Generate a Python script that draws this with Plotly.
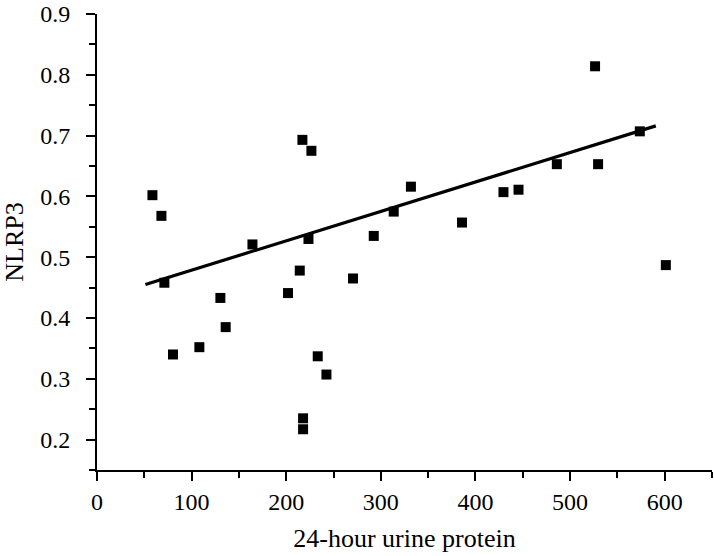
import plotly.graph_objects as go

protein = [58.6, 68.1, 71.2, 80.3, 108.2, 130.4, 136.0, 164.3, 201.9, 214.3,
           217.1, 217.8, 217.8, 223.5, 226.6, 233.3, 242.5, 270.6, 292.5, 313.6,
           331.8, 385.8, 429.6, 445.5, 486.0, 529.6, 526.4, 573.7, 601.2]
nlrp3 = [0.602, 0.568, 0.458, 0.340, 0.352, 0.433, 0.385, 0.521, 0.441, 0.478,
         0.693, 0.235, 0.217, 0.530, 0.675, 0.337, 0.307, 0.465, 0.535, 0.575,
         0.616, 0.557, 0.607, 0.611, 0.653, 0.653, 0.814, 0.707, 0.487]
fit_x = [51.2, 590.6]
fit_y = [0.455, 0.716]

x_ticks = [0, 100, 200, 300, 400, 500, 600]
y_ticks = [0.2, 0.3, 0.4, 0.5, 0.6, 0.7, 0.8, 0.9]

font = "Liberation Serif"

fig = go.Figure()
fig.add_trace(go.Scatter(x=fit_x, y=fit_y, mode="lines",
                         line=dict(color="black", width=3.2), showlegend=False))
fig.add_trace(go.Scatter(x=protein, y=nlrp3, mode="markers",
                         marker=dict(symbol="square", size=10, color="black", line=dict(width=0)),
                         showlegend=False))

fig.update_layout(
    width=714, height=556,
    margin=dict(l=97, r=2, t=14, b=86),
    paper_bgcolor="white", plot_bgcolor="white",
    font=dict(family=font, color="black", size=24),
    xaxis=dict(range=[0, 650], tickvals=x_ticks, showgrid=False, zeroline=False,
               automargin=False,
               showline=True, linecolor="black", linewidth=2,
               ticks="outside", ticklen=9, tickwidth=2, tickcolor="black",
               minor=dict(dtick=50, ticks="outside", ticklen=6, tickwidth=2, tickcolor="black"),
               tickfont=dict(size=24, family=font, color="black"), ticklabelstandoff=0,
               title=dict(text="24-hour urine protein",
                          font=dict(size=26, family=font, color="black"), standoff=15)),
    yaxis=dict(range=[0.15, 0.9], tickvals=y_ticks, tickformat=".1f", showgrid=False, zeroline=False,
               automargin=False,
               showline=True, linecolor="black", linewidth=2,
               ticks="outside", ticklen=9, tickwidth=2, tickcolor="black",
               minor=dict(dtick=0.05, tick0=0.15, ticks="outside", ticklen=6, tickwidth=2, tickcolor="black"),
               tickfont=dict(size=24, family=font, color="black"), ticklabelstandoff=11,
               title=dict(text="NLRP3", font=dict(size=26, family=font, color="black"), standoff=12)),
)

fig.write_html("out.html",
               config={"displayModeBar": False},
               post_script="document.body.style.margin='0';document.body.style.overflow='hidden';")
